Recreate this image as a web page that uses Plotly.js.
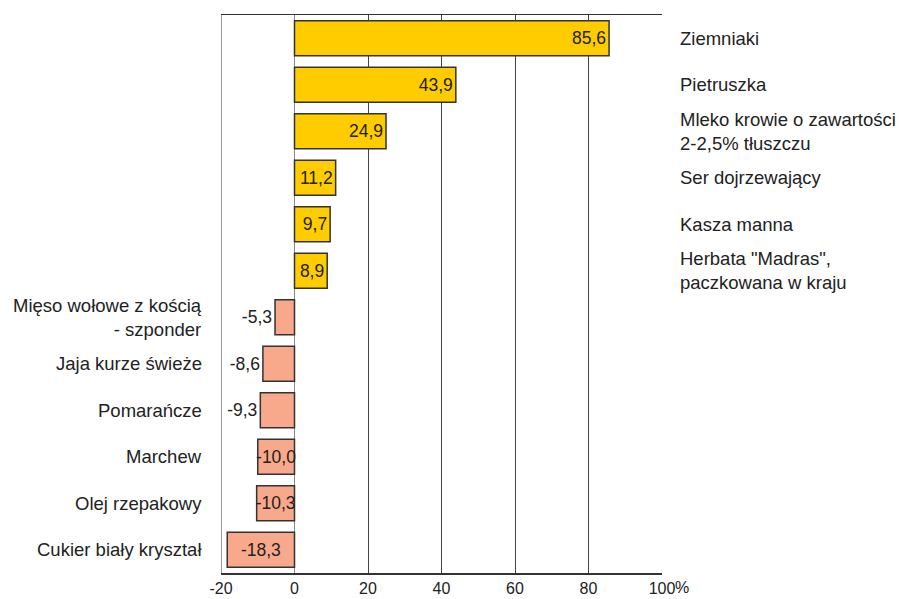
<!DOCTYPE html>
<html>
<head>
<meta charset="utf-8">
<script src="https://cdn.plot.ly/plotly-3.0.1.min.js"></script>
<style>html,body{margin:0;padding:0;background:#fff;}#chart{width:901px;height:599px;}</style>
</head>
<body>
<div id="chart"></div>
<script>
const categories = [
  "Ziemniaki",
  "Pietruszka",
  "Mleko krowie o zawartości<br>2-2,5% tłuszczu",
  "Ser dojrzewający",
  "Kasza manna",
  "Herbata \"Madras\",<br>paczkowana w kraju",
  "Mięso wołowe z kością<br>- szponder",
  "Jaja kurze świeże",
  "Pomarańcze",
  "Marchew",
  "Olej rzepakowy",
  "Cukier biały kryształ"
];
const values = [85.6, 43.9, 24.9, 11.2, 9.7, 8.9, -5.3, -8.6, -9.3, -10.0, -10.3, -18.3];
const tickValues = [-20, 0, 20, 40, 60, 80, 100];
const tickLabels = ["-20", "0", "20", "40", "60", "80", "100"];
const unitLabel = "%";

const FONT = "Liberation Sans, Arial, sans-serif";
const fmt = v => v.toFixed(1).replace('.', ',');

const posIdx = values.map((v, i) => i).filter(i => values[i] >= 0);
const negIdx = values.map((v, i) => i).filter(i => values[i] < 0);

function makeTrace(idx, color, anchor) {
  return {
    type: 'bar',
    orientation: 'h',
    x: idx.map(i => values[i]),
    y: idx.map(i => categories[i]),
    text: idx.map(i => fmt(values[i])),
    textposition: idx.map(i => (values[i] > -10 && values[i] < 0) ? 'outside' : 'inside'),
    insidetextanchor: anchor,
    constraintext: 'none',
    cliponaxis: false,
    textfont: {family: FONT, size: 17.5, color: '#222'},
    marker: {color: color, line: {color: '#333333', width: 1.5}},
    hoverinfo: 'none'
  };
}

const traces = [
  makeTrace(posIdx, '#FFCC00', 'end'),
  makeTrace(negIdx, '#F9A98B', 'middle')
];

const annotations = categories.map((c, i) => ({
  xref: 'paper', yref: 'y',
  x: values[i] >= 0 ? 1 : 0,
  y: c,
  xanchor: values[i] >= 0 ? 'left' : 'right',
  xshift: values[i] >= 0 ? 16 : -17,
  align: values[i] >= 0 ? 'left' : 'right',
  text: c,
  showarrow: false,
  font: {family: FONT, size: 18.5, color: '#222'}
}));
annotations.push({
  xref: 'x', yref: 'paper',
  x: tickValues[tickValues.length - 1], y: 0,
  xanchor: 'left', yanchor: 'top',
  xshift: 11, yshift: -4,
  text: unitLabel, showarrow: false,
  font: {family: FONT, size: 16, color: '#222'}
});

const layout = {
  width: 901, height: 599,
  margin: {l: 221, r: 239, t: 15, b: 26},
  paper_bgcolor: '#fff', plot_bgcolor: '#fff',
  showlegend: false,
  barmode: 'overlay',
  bargap: 0.25,
  xaxis: {
    range: [-20, 100],
    tickvals: tickValues,
    ticktext: tickLabels,
    showgrid: true, gridcolor: '#444', gridwidth: 1,
    zeroline: true, zerolinecolor: '#888', zerolinewidth: 1,
    showline: true, linecolor: '#333', linewidth: 1.5, mirror: true,
    ticks: '',
    tickfont: {family: FONT, size: 16, color: '#222'},
    fixedrange: true
  },
  yaxis: {
    type: 'category',
    categoryorder: 'array', categoryarray: categories,
    autorange: 'reversed',
    showticklabels: false,
    showgrid: false, zeroline: false, showline: false, ticks: '',
    fixedrange: true
  },
  shapes: [
    {type: 'line', xref: 'x', yref: 'paper', x0: -20, x1: -20, y0: 0, y1: 1, line: {color: '#999', width: 2}}
  ],
  annotations: annotations
};

Plotly.newPlot('chart', traces, layout, {displayModeBar: false, staticPlot: true});
</script>
</body>
</html>
